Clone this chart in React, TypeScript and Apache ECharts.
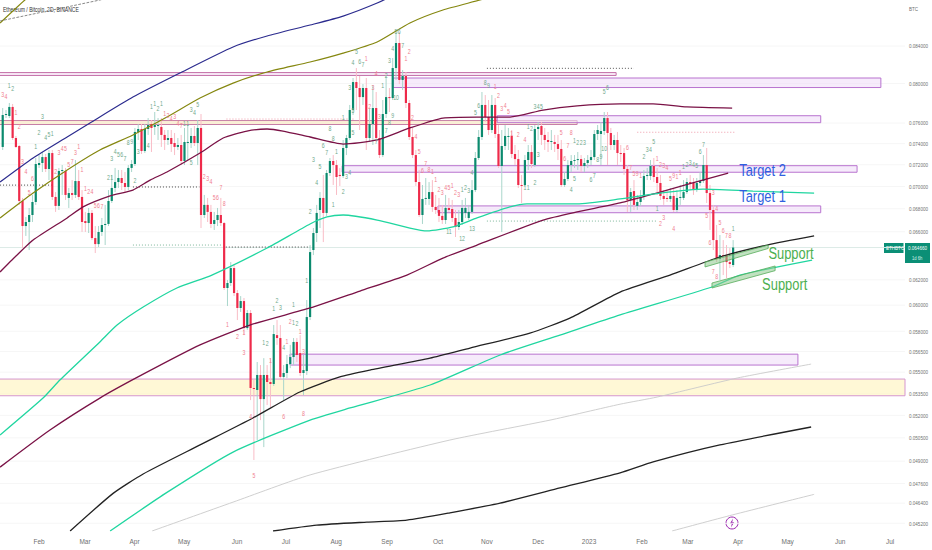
import React, { useEffect, useRef } from "react";
import * as echarts from "echarts";

// All prices are stored in units of 0.00001 BTC.
const UNIT = 1e-5;
const opens = [
7368,7680,7670,7761,7454,7377,6869,6649,6684,6745,
6860,7197,7216,7272,7160,7310,6905,6825,7142,7142,
6896,6940,6923,7049,6905,6692,6675,6763,6546,6495,
6598,6658,6667,6869,6986,7040,7077,7031,6995,7170,
7207,7513,7542,7329,7542,7591,7562,7571,7562,7484,
7435,7454,7406,7368,7387,7235,7406,7406,7474,7406,
7552,6745,6834,6772,6667,6701,6745,6675,6135,6175,
6296,6095,5978,6032,5824,5939,5388,5374,5480,5311,
5480,5430,5416,5771,5749,5466,5494,5558,5609,5720,
5638,5494,5508,5908,6445,6589,6789,6896,6763,7123,
7235,7197,7105,7095,7358,7454,7730,8016,7954,7861,
7954,7454,7591,7750,7454,7291,7690,7861,7851,8163,
8433,8037,8079,7801,7464,7291,7040,6745,6887,6887,
6949,6816,6789,6737,6701,6807,6798,6719,6641,6684,
6763,6719,6772,6967,7263,7464,7781,7660,7532,7781,
7493,7188,7377,7464,7474,7301,7253,7013,7013,7244,
7320,7197,7542,7571,7484,7435,7416,7416,7396,7349,
7013,7068,7197,7235,7244,7253,7188,7216,7244,7272,
7493,7493,7522,7650,7503,7387,7435,7310,7310,7160,
6878,6958,6825,6860,6905,7095,7095,7188,7086,7031,
6914,6896,6887,6914,6789,6896,6896,6949,7040,7031,
6967,7031,7049,7197,6940,6789,6529,6370,6403,6403,
6345,6321];
const closes = [
7680,7690,7761,7454,7368,6869,6649,6684,6745,6860,
7207,7216,7272,7160,7310,6905,6825,7142,7151,6923,
6940,6923,7049,6905,6684,6675,6763,6546,6495,6598,
6658,6667,6869,6986,7040,7077,7031,6995,7170,7207,
7513,7542,7329,7542,7581,7552,7581,7581,7484,7435,
7454,7396,7368,7387,7235,7416,7416,7474,7406,7552,
6745,6834,6772,6667,6701,6745,6675,6135,6175,6296,
6095,5978,6032,5824,5939,5388,5381,5480,5311,5480,
5430,5416,5779,5749,5466,5494,5558,5609,5720,5624,
5494,5515,5908,6428,6589,6763,6896,6763,7123,7235,
7197,7086,7095,7358,7454,7730,8016,7954,7861,7954,
7454,7591,7750,7454,7291,7690,7861,7851,8163,8433,
8037,8079,7801,7464,7291,7040,6745,6887,6896,6949,
6816,6789,6737,6701,6807,6789,6719,6641,6684,6807,
6807,6772,6967,7263,7464,7781,7660,7532,7781,7493,
7188,7377,7474,7474,7301,7253,7013,7004,7244,7320,
7207,7542,7562,7484,7435,7416,7425,7396,7349,7013,
7068,7197,7235,7244,7253,7188,7216,7244,7272,7493,
7532,7522,7650,7503,7387,7435,7310,7301,7160,6878,
6949,6834,6860,6905,7095,7105,7188,7086,7031,6914,
6887,6887,6914,6789,6896,6905,6949,7040,7031,6967,
7031,7049,7197,6940,6789,6529,6370,6403,6395,6345,
6329,6466];
const highs = [
7750,7730,7801,7791,7474,7387,6896,6728,6807,6923,
7263,7291,7320,7301,7339,7339,6949,7170,7197,7170,
6986,7058,7244,7151,6967,6772,6807,6789,6649,6649,
6719,6834,6967,7105,7170,7151,7151,7132,7197,7244,
7552,7591,7591,7591,7650,7630,7710,7650,7650,7532,
7532,7532,7503,7454,7484,7552,7581,7552,7571,7630,
7690,6923,6896,6834,6772,6807,6896,6684,6199,6345,
6329,6119,6071,6056,5962,5962,5444,5573,5551,5601,
5551,5601,5847,5885,5847,5551,5624,5698,5749,5749,
5771,5624,6040,6487,6632,6834,6949,7105,7151,7263,
7291,7244,7170,7435,7484,7781,8058,8163,8079,7995,
8058,7750,7985,7913,7532,7831,8090,7954,8270,8555,
8555,8142,8121,7831,7552,7339,7151,7013,7077,7040,
7058,6923,6896,6834,6923,6896,6878,6789,6789,6878,
6896,6834,7058,7320,7532,7913,7882,7831,7882,7851,
7581,7532,7581,7552,7532,7387,7339,7105,7291,7387,
7387,7581,7610,7610,7552,7513,7532,7484,7484,7435,
7132,7244,7291,7291,7320,7291,7263,7291,7339,7532,
7581,7610,7710,7710,7552,7484,7513,7387,7358,7197,
6986,7058,6923,6967,7151,7170,7244,7263,7170,7105,
6967,6967,6986,6986,6967,7013,7058,7077,7105,7077,
7077,7132,7291,7358,7013,6834,6658,6572,6529,6487,
6462,6529];
const lows = [
7339,7650,7650,7435,7358,6834,6462,6564,6445,6684,
6834,7170,7132,7132,7058,6878,6772,6789,6923,6878,
6807,6878,6896,6878,6598,6598,6589,6529,6420,6470,
6564,6487,6649,6851,6949,6986,6967,6949,6967,7132,
7188,7435,7301,7310,7484,7320,7484,7435,7368,7339,
7387,7320,7291,7339,7197,7197,7244,7358,7377,7197,
6632,6719,6684,6632,6615,6649,6649,6119,5993,6151,
6071,5885,5947,5771,5809,5304,4907,5036,5168,4990,
5270,5256,5402,5698,5444,5304,5458,5529,5551,5573,
5473,5339,5480,5885,6403,6512,6632,6512,6737,7095,
7013,6923,7004,7077,7291,7435,7680,7730,7532,7781,
7339,7416,7387,7416,7263,7272,7650,7710,7831,8037,
7995,7933,7750,7435,7263,7004,6728,6667,6834,6834,
6772,6754,6684,6667,6667,6772,6684,6555,6615,6658,
6719,6701,6754,6949,7244,7435,7610,7484,7503,7454,
7170,6598,7339,7339,7263,7197,6986,6851,6995,7151,
7170,7179,7435,7387,7339,7320,7339,7320,7244,6995,
6995,7049,7132,7170,7151,7132,7132,7170,7197,7244,
7435,7197,7484,7197,7339,7339,7197,7225,7105,6772,
6772,6789,6789,6825,6878,7058,7058,7040,6923,6878,
6834,6860,6860,6772,6772,6834,6878,6931,6967,6923,
6949,7004,7031,6851,6615,6445,6345,6199,6239,6215,
6296,6304];

// Moving averages: bar number, then price.
const maBlueBars = [-0.8,9.2,19.5,26.4,39.4,53.6,69.7,80,93,103,113.3,120.2];
const maBlue = [7040,7263,7464,7601,7861,8110,8389,8510,8632,8733,8882,9010];
const maOliveBars = [-0.8,9.2,19.5,29.4,39.4,49.7,59.7,69.7,80,93,103,113.3,123.2,133.2,144.4,150.5];
const maOlive = [6719,6940,7151,7339,7484,7660,7851,8005,8121,8227,8323,8444,8655,8802,8917,8987];
const maOlive2Bars = [-0.8,6.7,9.8];
const maOlive2 = [8655,8917,9010];
const dashedBars = [-0.8,29.4,35.5];
const dashed = [8678,8917,8975];
const maMaroonBars = [-0.8,2.8,9.2,19.5,24.3,32.5,39.4,44.6,49.7,59.7,66.7,73.9,80,84.8,93,103,113.3,123.2,133.2,143.5,153.5,163.5,173.8,186.8,196.8,207,220.7];
const maMaroon = [6264,6362,6529,6719,6816,6914,6967,7058,7132,7310,7454,7522,7542,7522,7464,7396,7435,7552,7650,7660,7660,7730,7771,7791,7791,7761,7750];
const maMaroonLowBars = [-0.8,14.3,29.4,41.5,59.7,74.8,93,108.1,122.3,133.2,143.5,163.5,173.8,186.8,198.9,219.5];
const maMaroonLow = [4862,5102,5318,5473,5698,5847,5978,6111,6239,6378,6487,6701,6772,6851,6949,7123];
const maMintBars = [-0.8,12.2,17.3,29.4,34.6,42.5,52.7,63.3,80,93,98.1,103,113.3,123.2,128.4,136.2,143.5,153.5,158.6,173.8,186.8,198.9,211.9,227,245.5];
const maMint = [5069,5318,5444,5720,5847,5985,6135,6239,6462,6667,6728,6745,6701,6632,6607,6641,6719,6816,6843,6843,6887,6940,6976,6958,6940];
const maBlackBars = [20.4,33.4,42.5,59.7,75.7,89.9,102,111.1,129.3,141.4,159.5,171.6,186.8,201.9,217,231.3,245.5];
const maBlack = [4475,4699,4819,5004,5182,5360,5466,5515,5601,5675,5786,5900,6103,6239,6387,6487,6564];
const maMintLowBars = [32.5,49.7,69.7,93,105.1,129.3,150.5,168.6,186.8,214.6,223.1,244.9];
const maMintLow = [4475,4705,4958,5168,5250,5409,5624,5771,5924,6143,6239,6362];
const maGrayBars = [45.2,69.7,93,135.3,165.6,186.8,198,222.2,244.6];
const maGray = [4475,4646,4813,5036,5168,5276,5325,5458,5558];
const maBlackLowBars = [81.8,95,110.2,122.3,135.3,150.5,168.6,186.8,196.8,217,244.6];
const maBlackLow = [4475,4509,4527,4539,4582,4640,4732,4826,4895,5004,5122];
const maGrayLowBars = [202.5,220.7,245.5];
const maGrayLow = [4475,4569,4693];

// Rectangular price zones
const zoneStart = [-3,-3,-3,86.9,118.1,149.6,102.7,131.7];
const zoneEnd = [185.6,173.8,273,240.6,265.7,247.5,258.5,247.5];
const zoneTop = [8115,7625,5451,5630,8058,7673,7191,6825];
const zoneBottom = [8085,7586,5334,5551,7959,7604,7130,6765];
const zoneKind = ["line","tan","yellow","purple","purple","purple","purple","purple"];

// Support channels
const supportBars = [[212.5,231.6,231.6,212.5],[214.6,233.7,233.7,214.6]];
const supportPrices = [[6345,6487,6458,6305],[6175,6313,6275,6135]];

// Dotted levels
const dotStart = [-0.8,39.4,39.4,67.5,67.7,146.5,146.5,192];
const dotEnd = [15,59.5,66.5,93,106.5,191,198,221.5];
const dotPrice = [7012,6995,6487,6470,7640,8160,6692,7510];
const dotColor = ["#444","#444","#7fb79b","#444","#ef9aa8","#555","#7fb79b","#ef9aa8"];

// Sequential counters above and below the candles: bar, price, number
const seqRed: [number, number, string][] = [
[0,7882,"3"],[1,7861,"4"],[4,7700,"1"],[5,7562,"2"],[6,7225,"3"],[7,7132,"4"],[8,6940,"5"],[9,7068,"6"],
[17,7310,"3"],[18,7349,"4"],[19,7349,"5"],[22,7310,"3"],[23,7368,"1"],[24,7151,"1"],[16,7132,"2"],[20,7197,"5"],
[21,7225,"7"],[25,6976,"1"],[26,6949,"2"],[27,6949,"4"],[28,6825,"5"],[29,6825,"6"],[30,6816,"7"],[49,7690,"1"],
[50,7670,"2"],[51,7640,"4"],[52,7660,"3"],[53,7591,"4"],[54,7571,"7"],[61,7086,"2"],[62,7068,"3"],[63,7040,"4"],
[64,6896,"5"],[65,6896,"6"],[66,6986,"7"],[67,6843,"8"],[68,5847,"1"],[71,5757,"2"],[73,5638,"3"],[73,5787,"1"],
[75,5188,"4"],[76,4806,"5"],[81,5580,"1"],[87,5870,"2"],[86,5720,"1"],[90,5794,"1"],[85,5188,"6"],[91,5209,"8"],
[91,5646,"3"],[110,8259,"1"],[112,7954,"3"],[111,7761,"2"],[114,7660,"3"],[113,8100,"4"],[122,8259,"1"],[123,8334,"2"],
[124,7650,"2"],[125,7464,"4"],[126,7320,"5"],[128,7207,"7"],[127,7142,"6"],[129,7151,"8"],[130,7132,"1"],[131,7058,"1"],
[132,6967,"2"],[133,6940,"3"],[134,6986,"4"],[135,6986,"5"],[136,7004,"1"],[137,6940,"2"],[138,6923,"3"],[149,7964,"1"],
[150,7872,"2"],[151,7740,"3"],[152,7771,"4"],[153,7710,"5"],[154,7493,"1"],[156,7484,"2"],[158,7435,"4"],[169,7503,"5"],
[172,7503,"8"],[171,7377,"7"],[170,7253,"6"],[189,7358,"6"],[190,7170,"7"],[191,7114,"5"],[192,7114,"9"],[193,7095,"1"],
[198,7253,"1"],[199,7197,"2"],[200,7188,"3"],[201,7170,"4"],[202,7068,"5"],[203,7095,"9"],[204,7086,"1"],[205,7123,"1"],
[199,6667,"2"],[200,6719,"3"],[203,6624,"4"],[215,6940,"3"],[216,6798,"4"],[213,6737,"5"],[217,6675,"5"],[218,6607,"6"],
[219,6564,"7"],[220,6564,"8"],[214,6504,"6"],[215,6264,"7"],[216,6223,"8"]];
const seqGreen: [number, number, string][] = [
[2,7974,"1"],[3,7943,"2"],[10,7368,"1"],[11,7503,"2"],[13,7454,"4"],[14,7484,"5"],[15,7493,"1"],[12,7660,"3"],
[33,7253,"3"],[34,7320,"4"],[35,7291,"5"],[36,7291,"6"],[37,7253,"7"],[32,7077,"2"],[33,7077,"1"],[40,7049,"2"],
[38,7406,"8"],[39,7416,"9"],[41,7320,"3"],[44,7377,"4"],[45,7761,"1"],[46,7791,"1"],[47,7740,"2"],[48,7791,"1"],
[55,7591,"1"],[56,7591,"1"],[57,7730,"3"],[58,7700,"4"],[59,7781,"5"],[57,7216,"5"],[79,5712,"1"],[80,5705,"2"],
[82,5970,"1"],[83,6032,"2"],[84,5978,"3"],[88,6001,"1"],[88,5862,"1"],[89,5855,"2"],[85,5675,"4"],[92,6191,"1"],
[93,6772,"2"],[95,7031,"4"],[96,7179,"5"],[94,7244,"3"],[97,7377,"6"],[98,7310,"7"],[99,7542,"8"],[100,7445,"8"],
[100,6834,"1"],[101,7320,"1"],[103,6949,"2"],[104,7086,"3"],[105,7123,"4"],[103,7650,"1"],[105,7954,"3"],[106,7503,"5"],
[106,7720,"5"],[106,8216,"4"],[107,8334,"5"],[108,8227,"6"],[109,8195,"7"],[113,7416,"7"],[115,7974,"1"],[117,7601,"8"],
[118,7670,"9"],[116,7522,"7"],[117,8238,"3"],[116,8079,"2"],[118,8367,"4"],[119,8554,"5"],[120,8554,"6"],[119,7851,"10"],
[121,8400,"7"],[135,6598,"11"],[139,6538,"12"],[142,6624,"13"],[140,6986,"2"],[139,6967,"1"],[141,6958,"3"],[142,7123,"4"],
[143,7700,"5"],[144,7771,"6"],[146,8005,"8"],[147,7974,"9"],[159,7562,"1"],[160,7542,"2"],[162,7291,"3"],[158,6986,"1"],
[159,6986,"1"],[161,7031,"2"],[161,7761,"3"],[162,7761,"4"],[163,7761,"5"],[172,6967,"4"],[173,7068,"5"],[173,7425,"1"],
[174,7406,"2"],[175,7406,"2"],[176,7406,"3"],[178,7058,"6"],[179,7095,"7"],[180,7244,"8"],[181,7272,"9"],[182,7349,"10"],
[182,7913,"5"],[183,7954,"6"],[194,7272,"2"],[195,7339,"3"],[196,7339,"4"],[197,7416,"5"],[198,6798,"1"],[206,7179,"1"],
[207,7197,"2"],[208,7216,"3"],[209,7197,"4"],[210,7188,"5"],[211,7320,"6"],[212,7387,"7"],[221,6624,"1"]];

// Notes written on the chart: bar, price, text
const noteBars = [229.9,229.9,238.5,236.6];
const notePrices = [7151,6914,6420,6167];
const noteTexts = ["Target 2","Target 1","Support","Support"];
const noteColors = ["#2f5fe0","#2f5fe0","#4caf50","#4caf50"];

// Axes
const priceTicks = [8400,8000,7600,7400,7200,7000,6800,6600,6200,6000,5800,5650,5500,5350,5200,5050,4900,4760,4640,4520];
const monthBars = [11,24.9,39.9,54.9,70.9,85.7,100.9,116.3,131.7,146.5,162,177.4,193.4,207.3,222.5,237.5,253.4,268.5];
const monthLabels = ["Feb","Mar","Apr","May","Jun","Jul","Aug","Sep","Oct","Nov","Dec","2023","Feb","Mar","Apr","May","Jun","Jul"];
const lastPrice = 6466;

const BAR_MIN = -0.82;
const BAR_MAX = 273;
const FONT = '"Liberation Sans",sans-serif';
const GREEN = "#0b8a6e";
const RED = "#ee2a4a";

const pts = (bars: number[], prices: number[]) => bars.map((b, i) => [b, prices[i] * UNIT]);

const lineSeries = (name: string, bars: number[], prices: number[], color: string, width: number, type = "solid") => ({
  type: "line", name, data: pts(bars, prices), symbol: "none", smooth: 0.2, z: 4, silent: true,
  lineStyle: { color, width, type },
});

const textSeries = (name: string, rows: [number, number, string][], color: string) => ({
  type: "custom", name, z: 6, silent: true,
  data: rows.map((r, i) => [r[0], r[1] * UNIT, i]),
  encode: { x: 0, y: 1 },
  renderItem: (_: any, api: any) => {
    const p = api.coord([api.value(0), api.value(1)]);
    return { type: "text", x: p[0], y: p[1], scaleX: 0.8, style: { x: 0, y: 0, text: rows[api.value(2)][2], fill: color, font: `6.5px ${FONT}`, align: "center", verticalAlign: "middle" } };
  },
});

export default function App() {
  const ref = useRef<HTMLDivElement>(null);
  useEffect(() => {
    document.body.style.margin = "0";
    const chart = echarts.init(ref.current!, undefined, { renderer: "svg" });
    const zoneStyle = (kind: string) =>
      kind === "yellow" ? { fill: "rgba(255,246,200,0.75)", stroke: "#d596cf" }
      : kind === "tan" ? { fill: "rgba(250,232,190,0.6)", stroke: "#c77fa6" }
      : kind === "line" ? { fill: "rgba(245,225,245,0.6)", stroke: "#c46fa8" }
      : { fill: "rgba(240,222,248,0.6)", stroke: "#b873cf" };
    const series: any[] = [
      {
        type: "custom", name: "grid", z: 0, silent: true,
        data: priceTicks.map((p, i) => [BAR_MIN, p * UNIT, i]),
        encode: { x: 0, y: 1 },
        renderItem: (params: any, api: any) => {
          const a = api.coord([BAR_MIN, api.value(1)]);
          const b = api.coord([BAR_MAX, api.value(1)]);
          return {
            type: "group",
            children: [
              { type: "line", shape: { x1: a[0], y1: a[1], x2: b[0], y2: b[1] }, style: { stroke: "#f6f6f6", lineWidth: 1 } },
              { type: "text", x: b[0] + 4, y: b[1], scaleX: 0.76, style: { x: 0, y: 0, text: (api.value(1)).toFixed(6), fill: "#707070", font: `6px ${FONT}`, align: "left", verticalAlign: "middle" } },
            ],
          };
        },
      },
      {
        type: "line", name: "last", z: 1, silent: true, symbol: "none",
        data: [[BAR_MIN, lastPrice * UNIT], [BAR_MAX, lastPrice * UNIT]],
        lineStyle: { color: "#dcebe7", width: 1 },
      },
      {
        type: "custom", name: "zones", z: 2, silent: true,
        data: zoneStart.map((s, i) => [s, zoneEnd[i], zoneTop[i] * UNIT, zoneBottom[i] * UNIT, i]),
        encode: { x: [0, 1], y: [2, 3] },
        renderItem: (_: any, api: any) => {
          const tl = api.coord([api.value(0), api.value(2)]);
          const br = api.coord([api.value(1), api.value(3)]);
          const st = zoneStyle(zoneKind[api.value(4)]);
          return { type: "rect", shape: { x: tl[0], y: tl[1], width: br[0] - tl[0], height: br[1] - tl[1] }, style: { fill: st.fill, stroke: st.stroke, lineWidth: 1 } };
        },
      },
      {
        type: "custom", name: "ETHBTC", z: 3, silent: true,
        data: opens.map((o, i) => [i, o * UNIT, closes[i] * UNIT, lows[i] * UNIT, highs[i] * UNIT]),
        encode: { x: 0, y: [1, 2, 3, 4] },
        renderItem: (_: any, api: any) => {
          const i = api.value(0);
          const o = api.coord([i, api.value(1)]);
          const c = api.coord([i, api.value(2)]);
          const l = api.coord([i, api.value(3)]);
          const h = api.coord([i, api.value(4)]);
          const up = api.value(2) >= api.value(1);
          const top = Math.min(o[1], c[1]);
          const ht = Math.max(Math.abs(o[1] - c[1]), 1);
          return {
            type: "group",
            children: [
              { type: "line", shape: { x1: o[0], y1: h[1], x2: o[0], y2: l[1] }, style: { stroke: up ? "#a9d6cb" : "#f9bcc6", lineWidth: 1 } },
              { type: "rect", shape: { x: o[0] - 1.1, y: top, width: 2.2, height: ht }, style: { fill: up ? GREEN : RED } },
            ],
          };
        },
      },
      lineSeries("blue", maBlueBars, maBlue, "#2b2b8e", 1.2),
      lineSeries("olive", maOliveBars, maOlive, "#85870f", 1.2),
      lineSeries("olive2", maOlive2Bars, maOlive2, "#85870f", 1.2),
      lineSeries("dashed", dashedBars, dashed, "#555555", 0.7, "dashed"),
      lineSeries("maroon", maMaroonBars, maMaroon, "#7a1246", 1.3),
      lineSeries("maroonLow", maMaroonLowBars, maMaroonLow, "#7a1246", 1.3),
      lineSeries("mint", maMintBars, maMint, "#20d6a0", 1.3),
      lineSeries("black", maBlackBars, maBlack, "#222222", 1.3),
      lineSeries("mintLow", maMintLowBars, maMintLow, "#20d6a0", 1.3),
      lineSeries("gray", maGrayBars, maGray, "#c9c9c9", 0.9),
      lineSeries("blackLow", maBlackLowBars, maBlackLow, "#222222", 1.3),
      lineSeries("grayLow", maGrayLowBars, maGrayLow, "#c9c9c9", 0.9),
      ...dotStart.map((s, i) => ({
        type: "line", name: `dot${i}`, symbol: "none", silent: true, z: 2,
        data: [[s, dotPrice[i] * UNIT], [dotEnd[i], dotPrice[i] * UNIT]],
        lineStyle: { color: dotColor[i], width: 1, type: [1, 2] },
      })),
      {
        type: "custom", name: "support", z: 5, silent: true,
        data: supportBars.map((_, i) => [supportBars[i][0], supportPrices[i][0] * UNIT, i]),
        encode: { x: 0, y: 1 },
        renderItem: (_: any, api: any) => {
          const k = api.value(2);
          const points = supportBars[k].map((b, j) => api.coord([b, supportPrices[k][j] * UNIT]));
          return { type: "polygon", shape: { points }, style: { fill: "rgba(140,200,140,0.55)", stroke: "#58ad5c", lineWidth: 0.8 } };
        },
      },
      textSeries("seqRed", seqRed, "#f0808f"),
      textSeries("seqGreen", seqGreen, "#6fa98c"),
      {
        type: "custom", name: "notes", z: 7, silent: true,
        data: noteBars.map((b, i) => [b, notePrices[i] * UNIT, i]),
        encode: { x: 0, y: 1 },
        renderItem: (_: any, api: any) => {
          const k = api.value(2);
          const p = api.coord([api.value(0), api.value(1)]);
          return { type: "text", x: p[0], y: p[1], scaleX: 0.76, style: { x: 0, y: 0, text: noteTexts[k], fill: noteColors[k], font: `17px ${FONT}`, align: "center", verticalAlign: "middle" } };
        },
      },
    ];
    chart.setOption({
      animation: false,
      backgroundColor: "#ffffff",
      grid: { left: 0, right: 27, top: 0, bottom: 19, containLabel: false },
      xAxis: {
        type: "value", min: BAR_MIN, max: BAR_MAX,
        axisLine: { show: false }, axisTick: { show: false }, splitLine: { show: false },
        axisLabel: {
          customValues: monthBars, margin: 7, fontSize: 6.5, color: "#707070", fontFamily: FONT,
          formatter: (v: number) => monthLabels[monthBars.indexOf(v)] ?? "",
        },
      },
      yAxis: {
        type: "log", logBase: 10, min: 0.04475, max: 0.08917, position: "right",
        axisLine: { show: false }, axisTick: { show: false }, splitLine: { show: false }, axisLabel: { show: false },
      },
      series,
      graphic: [
        { type: "text", x: 3, y: 10, scaleX: 0.78, style: { x: 0, y: 0, text: "Ethereum / Bitcoin, 2D, BINANCE", fill: "#333", font: `6.5px ${FONT}`, verticalAlign: "middle" } },
        { type: "text", x: 909, y: 9, scaleX: 0.76, style: { x: 0, y: 0, text: "BTC", fill: "#707070", font: `6px ${FONT}`, verticalAlign: "middle" } },
        { type: "rect", shape: { x: 884, y: 243, width: 19.5, height: 10 }, style: { fill: "#0b8f76" } },
        { type: "text", x: 886, y: 248, scaleX: 0.76, style: { x: 0, y: 0, text: "ETHBTC", fill: "#fff", font: `6px ${FONT}`, verticalAlign: "middle" } },
        { type: "rect", shape: { x: 905, y: 243, width: 25, height: 20 }, style: { fill: "#0b8f76" } },
        { type: "text", x: 908, y: 248, scaleX: 0.76, style: { x: 0, y: 0, text: "0.064660", fill: "#fff", font: `6px ${FONT}`, verticalAlign: "middle" } },
        { type: "text", x: 912, y: 258, scaleX: 0.76, style: { x: 0, y: 0, text: "1d 6h", fill: "#d7efe9", font: `5.5px ${FONT}`, verticalAlign: "middle" } },
        { type: "circle", shape: { cx: 732, cy: 523, r: 6 }, style: { fill: "#fff", stroke: "#9c27b0", lineWidth: 1 } },
        { type: "polygon", shape: { points: [[733, 518.5], [729.8, 523.8], [731.8, 523.8], [731, 527.5], [734.2, 522.2], [732.2, 522.2]] }, style: { fill: "#9c27b0" } },
      ],
    });
    return () => chart.dispose();
  }, []);
  return <div ref={ref} style={{ width: 932, height: 550 }} />;
}
